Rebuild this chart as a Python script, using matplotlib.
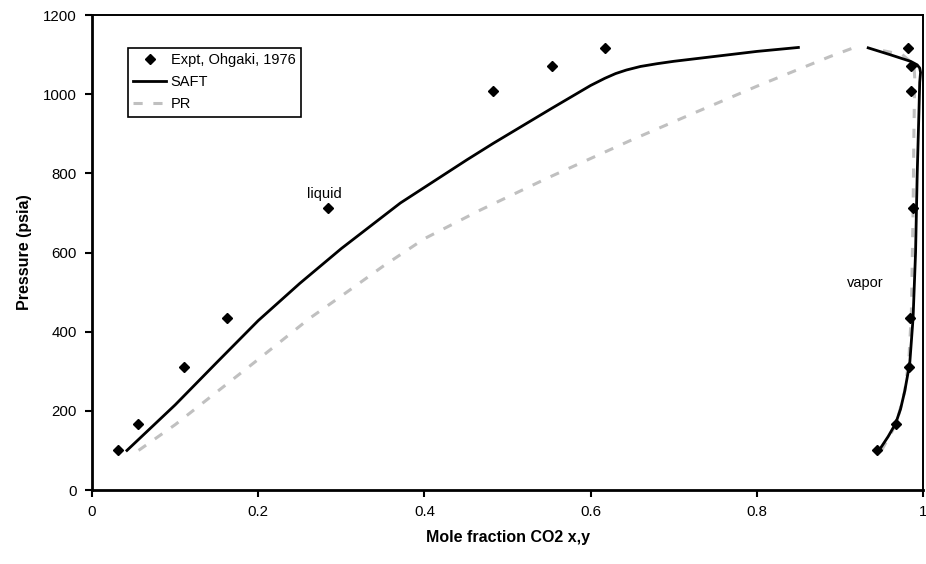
import matplotlib
matplotlib.use("Agg")
import matplotlib.pyplot as plt

plt.rcParams['font.family'] = ['Liberation Sans', 'DejaVu Sans']

# Experimental data (Ohgaki, 1976)
expt_liq_x = [0.031, 0.055, 0.111, 0.163, 0.284, 0.483, 0.553, 0.617]
expt_liq_p = [100, 166, 312, 434, 712, 1007, 1071, 1117]
expt_vap_y = [0.945, 0.967, 0.983, 0.984, 0.988, 0.985, 0.985, 0.982]
expt_vap_p = [100, 166, 312, 434, 712, 1007, 1071, 1117]

# SAFT model
saft_liq_x = [0.042, 0.10, 0.15, 0.20, 0.25, 0.30, 0.371, 0.451, 0.483, 0.553, 0.60,
              0.617, 0.63, 0.643, 0.66, 0.68, 0.70, 0.732, 0.80, 0.85]
saft_liq_p = [100, 215, 322, 428, 522, 610, 725, 834, 876, 964, 1022,
              1040, 1052, 1061, 1070, 1077, 1083, 1091, 1108, 1118]
saft_vap_y = [0.947, 0.958, 0.967, 0.973, 0.978, 0.984, 0.988, 0.991, 0.993, 0.995,
              0.996, 0.997, 0.996, 0.993, 0.985, 0.960, 0.934]
saft_vap_p = [100, 135, 168, 205, 250, 320, 434, 600, 800, 950,
              1030, 1055, 1066, 1074, 1083, 1100, 1117]

# Peng-Robinson model
pr_liq_x = [0.056, 0.10, 0.20, 0.262, 0.30, 0.35, 0.40, 0.467, 0.55, 0.65, 0.724, 0.80, 0.888, 0.92]
pr_liq_p = [100, 165, 330, 434, 490, 565, 635, 707, 790, 885, 952, 1020, 1095, 1120]
pr_vap_y = [0.950, 0.968, 0.978, 0.983, 0.986, 0.988, 0.989, 0.990, 0.989, 0.975, 0.94]
pr_vap_p = [100, 168, 250, 330, 450, 700, 900, 1040, 1075, 1100, 1115]

fig = plt.figure(figsize=(9.26, 5.64), dpi=100)
ax = fig.add_axes([0.0994, 0.1312, 0.8974, 0.8422])

pr_color = '#C0C0C0'
ax.plot(pr_liq_x, pr_liq_p, color=pr_color, lw=2.2, dashes=(3, 3.5), label='PR', zorder=2)
ax.plot(pr_vap_y, pr_vap_p, color=pr_color, lw=2.2, dashes=(3, 3.5), zorder=2)
ax.plot(saft_liq_x, saft_liq_p, color='black', lw=2, label='SAFT', zorder=3)
ax.plot(saft_vap_y, saft_vap_p, color='black', lw=2, zorder=3)
ax.plot(expt_liq_x, expt_liq_p, 'D', color='black', ms=5.5, ls='none',
        label='Expt, Ohgaki, 1976', zorder=4)
ax.plot(expt_vap_y, expt_vap_p, 'D', color='black', ms=5.5, ls='none', zorder=4)

ax.set_xlim(0, 1)
ax.set_ylim(0, 1200)
ax.set_xticks([0, 0.2, 0.4, 0.6, 0.8, 1.0])
ax.set_xticklabels(['0', '0.2', '0.4', '0.6', '0.8', '1'])
ax.set_yticks(range(0, 1201, 200))
ax.tick_params(direction='out', length=5, width=1.5, labelsize=10.8, pad=6)

for s in ['left', 'bottom']:
    ax.spines[s].set_linewidth(2)
for s in ['top', 'right']:
    ax.spines[s].set_linewidth(1.4)

ax.set_xlabel('Mole fraction CO2 x,y', fontsize=11.5, fontweight='bold', labelpad=8)
ax.set_ylabel('Pressure (psia)', fontsize=11.5, fontweight='bold', labelpad=8)

ax.text(0.28, 748, 'liquid', fontsize=10.5, ha='center', va='center')
ax.text(0.931, 522, 'vapor', fontsize=10.5, ha='center', va='center')

h, l = ax.get_legend_handles_labels()
order = [2, 1, 0]
leg = ax.legend([h[i] for i in order], [l[i] for i in order],
                loc='upper left', bbox_to_anchor=(0.043, 0.93), fontsize=10.5,
                frameon=True, fancybox=False, edgecolor='black', framealpha=1,
                borderpad=0.35, labelspacing=0.55, handlelength=2.3, handletextpad=0.3,
                borderaxespad=0)
leg.get_frame().set_linewidth(1.2)

fig.savefig('out.png', dpi=100)
